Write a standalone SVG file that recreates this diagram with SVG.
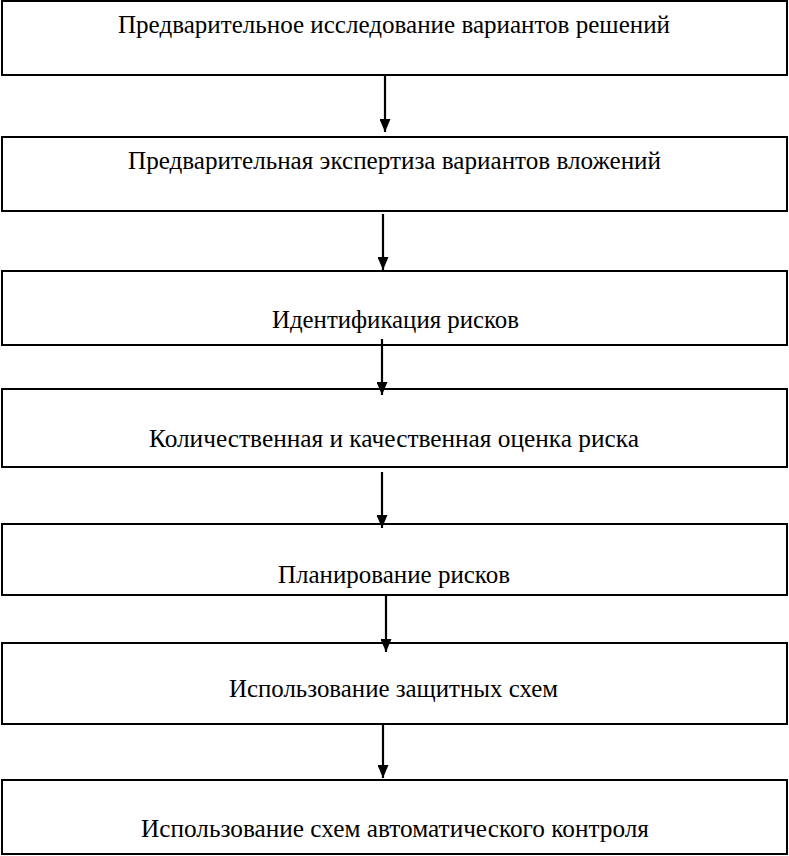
<svg xmlns="http://www.w3.org/2000/svg" width="789" height="856" viewBox="0 0 789 856">
<defs>
<style>
.box{fill:#fff;stroke:#000;stroke-width:2}
.lbl{font-family:"Liberation Serif","Times New Roman",serif;font-size:25px;fill:#000;text-anchor:middle}
.con{stroke:#000;stroke-width:2.2;fill:none}
</style>
<marker id="ah" markerWidth="13" markerHeight="11" refX="13" refY="5.5" orient="auto" markerUnits="userSpaceOnUse" viewBox="0 0 13 11">
<path d="M0,0 L13,5.5 L0,11 Z" fill="#000"/>
</marker>
</defs>
<rect width="789" height="856" fill="#fff"/>
<g id="n1"><rect class="box" x="2" y="1" width="785" height="74"/><text class="lbl" x="394" y="33" textLength="552" lengthAdjust="spacingAndGlyphs">Предварительное исследование вариантов решений</text></g>
<g id="n2"><rect class="box" x="2" y="137" width="785" height="74"/><text class="lbl" x="394.5" y="169" textLength="533" lengthAdjust="spacingAndGlyphs">Предварительная экспертиза вариантов вложений</text></g>
<g id="n3"><rect class="box" x="2" y="271" width="785" height="74"/><text class="lbl" x="395.5" y="328" textLength="247" lengthAdjust="spacingAndGlyphs">Идентификация рисков</text></g>
<g id="n4"><rect class="box" x="2" y="389" width="785" height="78"/><text class="lbl" x="394" y="447" textLength="490" lengthAdjust="spacingAndGlyphs">Количественная и качественная оценка риска</text></g>
<g id="n5"><rect class="box" x="2" y="524" width="785" height="71"/><text class="lbl" x="394" y="583" textLength="232" lengthAdjust="spacingAndGlyphs">Планирование рисков</text></g>
<g id="n6"><rect class="box" x="2" y="643" width="785" height="81"/><text class="lbl" x="393.5" y="697" textLength="329" lengthAdjust="spacingAndGlyphs">Использование защитных схем</text></g>
<g id="n7"><rect class="box" x="2" y="780" width="785" height="74"/><text class="lbl" x="395" y="837" textLength="508" lengthAdjust="spacingAndGlyphs">Использование схем автоматического контроля</text></g>
<g id="connectors">
<path class="con" d="M385,75 V132" marker-end="url(#ah)"/>
<path class="con" d="M383,214 V270" marker-end="url(#ah)"/>
<path class="con" d="M382,339 V395" marker-end="url(#ah)"/>
<path class="con" d="M382,472 V528" marker-end="url(#ah)"/>
<path class="con" d="M386,595 V652" marker-end="url(#ah)"/>
<path class="con" d="M383,724 V778" marker-end="url(#ah)"/>
</g>
</svg>
